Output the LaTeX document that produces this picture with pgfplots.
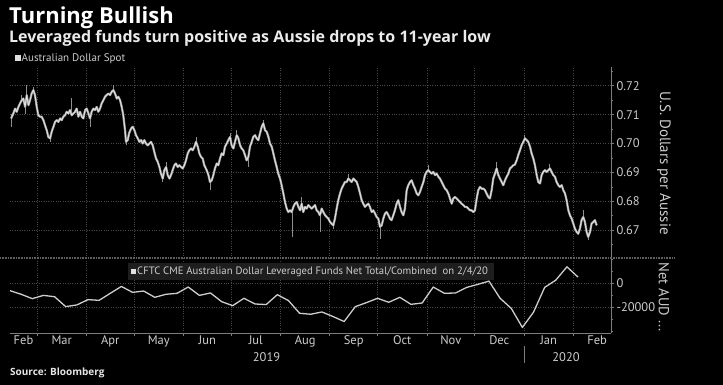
\documentclass[border=0pt]{standalone}
\usepackage{pgfplots}
\pgfplotsset{compat=1.18}
\usepackage{pgfplotstable}
\usepackage{fontspec}
\setmainfont{PT Sans}
\newfontfamily\titlefont{Open Sans}
\definecolor{txt}{RGB}{205,205,205}
\definecolor{gridc}{RGB}{72,72,72}
\definecolor{axc}{RGB}{125,125,125}
\definecolor{linec}{RGB}{205,205,205}
\definecolor{boxc}{RGB}{30,30,30}
\definecolor{sepc}{RGB}{95,95,95}

% Australian Dollar Spot (x = days since 1 Jan 2019)
\pgfplotstableread{
x y
42.7 0.7087
44.1 0.7104
45.2 0.7121
46.2 0.7110
47.3 0.7127
48.3 0.7139
49.4 0.7150
50.4 0.7156
51.5 0.7127
52.5 0.7168
53.6 0.7133
54.6 0.7150
55.6 0.7173
56.7 0.7185
57.7 0.7168
58.8 0.7127
59.8 0.7098
60.9 0.7093
61.9 0.7093
63.0 0.7081
64.0 0.7064
65.1 0.7046
66.1 0.7023
67.2 0.7018
68.2 0.7041
69.3 0.7058
70.3 0.7075
71.4 0.7081
72.4 0.7075
73.5 0.7087
74.5 0.7081
75.5 0.7093
76.6 0.7098
77.6 0.7110
78.7 0.7104
79.7 0.7116
80.8 0.7098
81.8 0.7104
82.9 0.7110
83.9 0.7121
85.0 0.7093
86.0 0.7110
87.1 0.7093
88.1 0.7087
89.2 0.7116
90.2 0.7121
91.3 0.7104
92.3 0.7087
93.3 0.7110
94.4 0.7121
95.4 0.7116
96.5 0.7127
97.5 0.7110
98.6 0.7121
99.6 0.7139
100.7 0.7150
101.7 0.7162
102.8 0.7168
103.8 0.7173
104.9 0.7168
105.9 0.7179
107.0 0.7185
108.0 0.7173
109.1 0.7156
110.1 0.7162
111.2 0.7150
112.2 0.7127
113.2 0.7098
114.3 0.7046
114.9 0.7006
116.0 0.7012
116.8 0.7035
118.1 0.7052
119.1 0.7058
120.2 0.7046
121.2 0.7029
122.3 0.7018
123.3 0.7006
124.4 0.7012
125.4 0.7000
126.4 0.7012
127.5 0.7000
128.5 0.6994
129.6 0.7000
130.6 0.7006
131.7 0.6994
132.7 0.6971
133.8 0.6948
134.8 0.6937
135.9 0.6919
136.9 0.6896
138.0 0.6879
139.0 0.6908
140.1 0.6919
141.1 0.6891
142.2 0.6879
143.2 0.6891
144.2 0.6908
145.3 0.6925
146.3 0.6931
147.4 0.6919
148.4 0.6925
149.5 0.6919
150.5 0.6914
151.6 0.6925
152.6 0.6942
153.7 0.6966
154.7 0.6977
155.8 0.6983
156.8 0.6977
157.9 0.6989
158.9 0.7006
160.0 0.6989
161.0 0.6966
162.0 0.6954
163.1 0.6948
164.1 0.6925
165.6 0.6908
166.7 0.6891
167.7 0.6867
168.8 0.6873
169.8 0.6891
170.8 0.6914
171.9 0.6931
172.9 0.6925
174.0 0.6948
175.0 0.6966
176.1 0.6960
177.1 0.6989
178.2 0.7000
179.2 0.7012
180.3 0.7023
181.3 0.6994
182.4 0.6983
183.4 0.7006
184.5 0.7029
185.5 0.7018
186.6 0.6994
187.6 0.6983
188.6 0.6977
189.7 0.6960
190.7 0.6942
191.8 0.6954
192.8 0.6989
193.9 0.7006
194.9 0.7023
196.0 0.7029
197.0 0.7018
198.1 0.7012
199.1 0.7035
200.2 0.7058
201.2 0.7070
202.3 0.7046
203.3 0.7041
204.4 0.7023
205.4 0.7000
206.5 0.6989
207.5 0.6966
208.5 0.6942
209.6 0.6919
210.6 0.6896
211.7 0.6879
212.7 0.6856
213.8 0.6827
214.8 0.6798
215.9 0.6775
216.9 0.6763
218.0 0.6769
219.0 0.6763
220.1 0.6781
221.1 0.6792
222.2 0.6798
223.2 0.6781
224.3 0.6769
225.3 0.6792
226.3 0.6763
227.4 0.6781
228.4 0.6775
229.5 0.6787
230.5 0.6781
231.6 0.6775
232.6 0.6781
233.7 0.6787
234.7 0.6769
235.8 0.6763
236.8 0.6752
237.9 0.6775
238.9 0.6763
240.0 0.6752
241.0 0.6746
242.1 0.6740
243.1 0.6729
244.1 0.6723
245.2 0.6717
246.2 0.6740
247.3 0.6775
248.3 0.6804
249.4 0.6827
250.4 0.6844
251.5 0.6856
252.5 0.6867
253.6 0.6867
254.6 0.6879
255.7 0.6873
256.7 0.6867
257.8 0.6879
258.8 0.6873
259.9 0.6867
260.9 0.6850
262.0 0.6827
263.0 0.6804
264.0 0.6792
265.1 0.6781
266.1 0.6787
267.2 0.6792
268.2 0.6781
269.3 0.6763
270.3 0.6769
271.4 0.6758
272.4 0.6746
273.5 0.6740
274.5 0.6712
275.6 0.6717
276.6 0.6740
277.7 0.6758
278.7 0.6763
279.8 0.6752
280.8 0.6740
281.8 0.6735
282.9 0.6752
283.9 0.6769
285.0 0.6792
286.0 0.6804
287.1 0.6781
288.1 0.6763
289.2 0.6752
290.2 0.6775
291.3 0.6839
292.3 0.6856
293.4 0.6867
294.4 0.6873
295.5 0.6856
296.5 0.6844
297.6 0.6827
298.6 0.6821
299.7 0.6833
300.7 0.6850
301.8 0.6867
302.8 0.6891
303.8 0.6902
304.9 0.6908
305.9 0.6902
307.0 0.6896
308.0 0.6902
309.1 0.6891
310.1 0.6896
311.2 0.6885
312.2 0.6879
313.3 0.6867
314.3 0.6856
315.4 0.6844
316.4 0.6839
317.5 0.6827
318.5 0.6810
319.6 0.6792
320.6 0.6810
321.6 0.6815
322.7 0.6810
323.7 0.6804
324.8 0.6798
325.8 0.6792
326.9 0.6787
327.9 0.6781
329.0 0.6781
330.0 0.6775
331.1 0.6769
332.1 0.6769
333.2 0.6763
334.2 0.6769
335.3 0.6810
336.3 0.6839
337.4 0.6850
338.4 0.6844
339.5 0.6844
340.5 0.6839
341.5 0.6827
342.6 0.6815
343.6 0.6810
344.7 0.6839
345.7 0.6879
346.8 0.6896
347.8 0.6914
348.9 0.6891
349.9 0.6879
351.0 0.6867
352.0 0.6856
353.1 0.6873
354.1 0.6885
355.2 0.6896
356.2 0.6914
357.3 0.6919
358.3 0.6925
359.3 0.6927
360.4 0.6942
361.4 0.6960
362.5 0.6977
363.5 0.6994
364.6 0.7006
365.6 0.7018
366.7 0.7012
367.7 0.7006
368.8 0.6989
369.8 0.6966
370.9 0.6948
371.9 0.6925
373.0 0.6891
374.0 0.6867
375.1 0.6862
376.1 0.6891
377.1 0.6902
378.2 0.6908
379.2 0.6902
380.3 0.6908
381.3 0.6914
382.4 0.6902
383.4 0.6891
384.5 0.6885
385.5 0.6867
386.6 0.6856
387.6 0.6850
388.7 0.6856
389.7 0.6839
390.8 0.6827
391.8 0.6804
392.9 0.6769
393.9 0.6752
395.0 0.6740
396.0 0.6723
397.0 0.6706
398.1 0.6694
399.1 0.6688
400.2 0.6706
401.2 0.6735
402.3 0.6746
403.3 0.6729
404.4 0.6694
405.4 0.6677
406.5 0.6694
407.5 0.6723
408.6 0.6729
409.6 0.6735
410.7 0.6717
}\audtable

% daily high-low wicks (segments separated by nan)
\pgfplotstableread{
x y
42.7 0.7058
42.7 0.7104
nan nan
49.4 0.7150
49.4 0.7168
nan nan
51.5 0.7104
51.5 0.7127
nan nan
52.5 0.7168
52.5 0.7202
nan nan
56.7 0.7185
56.7 0.7197
nan nan
67.2 0.7006
67.2 0.7018
nan nan
80.4 0.7098
80.4 0.7156
nan nan
92.3 0.7058
92.3 0.7087
nan nan
107.0 0.7185
107.0 0.7202
nan nan
114.9 0.6994
114.9 0.7006
nan nan
138.0 0.6867
138.0 0.6879
nan nan
140.1 0.6919
140.1 0.6937
nan nan
158.9 0.7006
158.9 0.7023
nan nan
167.7 0.6839
167.7 0.6867
nan nan
180.3 0.7023
180.3 0.7035
nan nan
184.5 0.7029
184.5 0.7046
nan nan
191.8 0.6919
191.8 0.6954
nan nan
201.2 0.7070
201.2 0.7081
nan nan
219.4 0.6677
219.4 0.6763
nan nan
225.3 0.6792
225.3 0.6815
nan nan
236.8 0.6694
236.8 0.6752
nan nan
245.2 0.6706
245.2 0.6717
nan nan
254.6 0.6879
254.6 0.6893
nan nan
274.5 0.6671
274.5 0.6712
nan nan
304.9 0.6908
304.9 0.6927
nan nan
347.8 0.6914
347.8 0.6937
nan nan
365.6 0.7018
365.6 0.7029
nan nan
381.3 0.6914
381.3 0.6931
nan nan
402.3 0.6746
402.3 0.6769
nan nan
405.4 0.6665
405.4 0.6677
}\wicktable

% CFTC leveraged funds net (weekly, Tuesdays)
\pgfplotstableread{
x y
42 -6000
49 -9000
56 -12600
63 -9900
70 -11000
77 -19200
84 -17800
91 -13400
98 -14000
105 -8200
112 -2500
119 -7400
126 -6300
133 -11500
140 -9000
147 -8200
154 -3000
161 -9900
168 -7900
175 -15100
182 -18400
189 -12300
196 -17000
203 -17500
210 -9300
217 -14200
224 -24700
231 -25500
238 -23600
245 -27400
252 -31500
259 -19200
266 -15900
273 -12300
280 -15600
287 -11500
294 -17300
301 -16200
308 -3000
315 -8200
322 -7900
329 -3300
336 -800
343 1900
350 -12300
357 -20600
364 -36400
371 -23800
378 -3300
385 2700
392 13700
399 5200
}\cftctable

\pgfplotsset{
  bbg/.style={
    scale only axis, width=601pt,
    xmin=42, xmax=419.7,
    axis line style={draw=none},
    tick align=outside,
    ytick pos=right, yticklabel pos=right,
    xtick pos=bottom,
    tick style={axc, line width=0.8pt},
    major tick length=3pt, minor tick length=2pt,
    grid=major,
    major grid style={gridc, dotted, line width=0.8pt},
    xtick={59,90,120,151,181,212,243,273,304,334,365,396},
    xticklabels={},
    yticklabel style={font=\fontsize{12.5}{12.5}\selectfont, text=txt, xshift=-1pt},
    /pgf/number format/assume math mode=true,
    scaled y ticks=false,
  }
}

\begin{document}
\begin{tikzpicture}[x=1pt,y=1pt]
\fill[black] (0pt,0pt) rectangle (723pt,-385pt);
\useasboundingbox (0pt,0pt) rectangle (723pt,-385pt);

% titles
\node[anchor=base west, inner sep=0, text=white, font=\titlefont\bfseries\fontsize{22}{26}\selectfont] at (9pt,-24pt) {Turning Bullish};
\node[anchor=base west, inner sep=0, text=white!92!black, font=\titlefont\bfseries\fontsize{16}{19}\selectfont] at (9pt,-43pt) {Leveraged funds turn positive as Aussie drops to 11-year low};

% legend 1
\fill[white!88!black] (15pt,-55pt) rectangle (20.5pt,-61pt);
\node[anchor=base west, inner sep=0, text=txt, font=\fontsize{11}{12}\selectfont] at (21.5pt,-61.5pt) {Australian Dollar Spot};

% top panel
\begin{axis}[bbg, at={(10pt,-258pt)}, anchor=south west, height=191pt,
  ymin=0.6604, ymax=0.7265,
  ytick={0.67,0.68,0.69,0.70,0.71,0.72},
  minor ytick={0.665,0.675,0.685,0.695,0.705,0.715,0.725},
  xtick style={draw=none},
  yticklabel style={/pgf/number format/.cd, fixed, fixed zerofill, precision=2},
]
\addplot[linec!70!black, line width=0.9pt, unbounded coords=jump] table {\wicktable};
\addplot[linec!75!black, line width=2.2pt, line join=round] table {\audtable};
\addplot[linec!60!white, line width=0.9pt, line join=round] table {\audtable};
\end{axis}

% bottom panel
\begin{axis}[bbg, at={(10pt,-333pt)}, anchor=south west, height=75pt,
  ymin=-41000, ymax=21000,
  ytick={-20000,0},
  minor ytick={-40000,-30000,-10000,10000,20000},
  yticklabel style={/pgf/number format/.cd, fixed, 1000 sep={}},
  extra x ticks={50.5,74.5,105,135.5,166,196.5,227.5,258,288.5,319,349.5,380.5,411},
  extra x tick labels={Feb,Mar,Apr,May,Jun,Jul,Aug,Sep,Oct,Nov,Dec,Jan,Feb},
  extra x tick style={grid=none, major tick length=0pt,
     xticklabel style={font=\fontsize{12.5}{12.5}\selectfont, text=txt, yshift=1pt}},
]
\addplot[linec, line width=1.3pt, line join=round] table {\cftctable};
\end{axis}

% legend 2 box (drawn over plot area)
\fill[boxc] (128pt,-263pt) rectangle (494pt,-280pt);
\fill[white!88!black] (131pt,-268.5pt) rectangle (136pt,-274pt);
\node[anchor=base west, inner sep=0, text=txt, font=\fontsize{10.7}{11}\selectfont] at (137pt,-274.5pt) {CFTC CME Australian Dollar Leveraged Funds Net Total/Combined\ \ on 2/4/20};

% axis lines and separator
\draw[axc, line width=0.8pt] (611pt,-67pt) -- (611pt,-333pt);
\draw[axc, line width=0.8pt] (10pt,-333pt) -- (611pt,-333pt);
\draw[sepc, line width=1.6pt, dash pattern=on 1pt off 0.6pt] (0pt,-258pt) -- (675pt,-258pt);

% right titles
\node[rotate=-90, text=txt, font=\fontsize{15}{15}\selectfont] at (664pt,-163pt) {U.S. Dollars per Aussie};
\node[rotate=-90, text=txt, font=\fontsize{14.5}{15}\selectfont] at (664pt,-297pt) {Net AUD ...};

% years
\node[anchor=base, inner sep=0, text=txt, font=\fontsize{12.5}{12.5}\selectfont] at (266.5pt,-361pt) {2019};
\node[anchor=base, inner sep=0, text=txt, font=\fontsize{12.5}{12.5}\selectfont] at (566pt,-361pt) {2020};
\draw[axc, line width=0.8pt] (524pt,-346pt) -- (524pt,-363pt);

% source
\node[anchor=base west, inner sep=0, text=white!90!black, font=\titlefont\bfseries\fontsize{10}{11}\selectfont] at (10pt,-375pt) {Source: Bloomberg};
\end{tikzpicture}
\end{document}
